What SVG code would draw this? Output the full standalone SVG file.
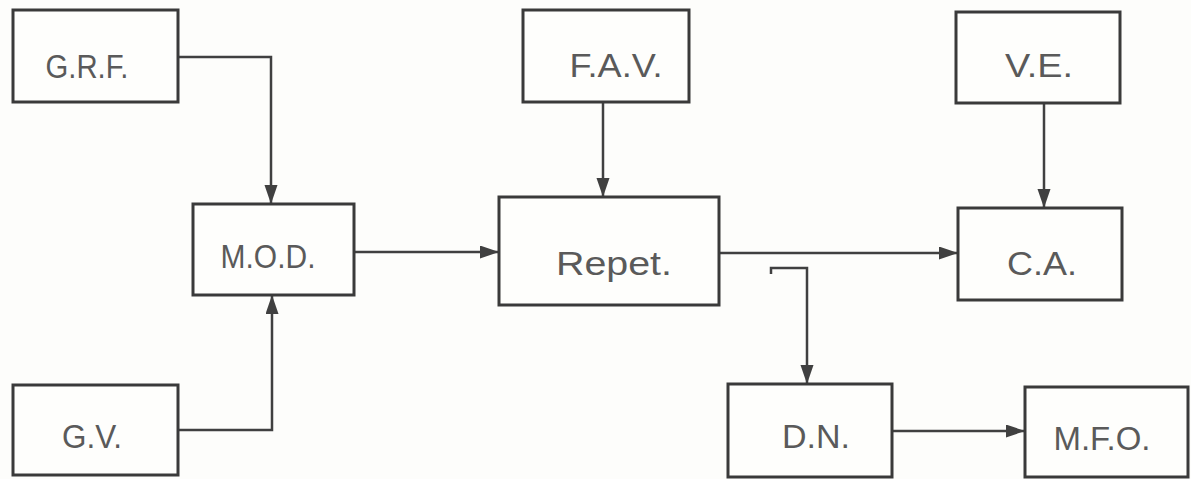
<svg xmlns="http://www.w3.org/2000/svg" width="1191" height="479" viewBox="0 0 1191 479">
<style>
.box{fill:#fefefc;stroke:#3a3a3a;stroke-width:3}
.lbl{font-family:"Liberation Sans",Arial,sans-serif;font-size:34px;fill:#5a5a5a;text-anchor:middle}
.con{fill:none;stroke:#404040;stroke-width:2.5}
</style>
<defs>
<marker id="arr" markerUnits="userSpaceOnUse" markerWidth="20" markerHeight="14" refX="19" refY="6.5" orient="auto">
<path d="M0,0 L19,6.5 L0,13 Z" fill="#404040"/>
</marker>
</defs>
<rect width="1191" height="479" fill="#fdfdfb"/>
<g id="connectors">
<path class="con" d="M178 57 H271 V204" marker-end="url(#arr)"/>
<path class="con" d="M178 430 H272 V295" marker-end="url(#arr)"/>
<path class="con" d="M354 252 H499" marker-end="url(#arr)"/>
<path class="con" d="M603 102 V197" marker-end="url(#arr)"/>
<path class="con" d="M1044 103 V208" marker-end="url(#arr)"/>
<path class="con" d="M719 253 H958" marker-end="url(#arr)"/>
<path class="con" d="M771 274 V268 H807 V384" marker-end="url(#arr)"/>
<path class="con" d="M892 431 H1025" marker-end="url(#arr)"/>
</g>
<g id="GRF"><rect class="box" x="13" y="10" width="165" height="92"/><text class="lbl" x="87" y="78" textLength="83" lengthAdjust="spacingAndGlyphs">G.R.F.</text></g>
<g id="GV"><rect class="box" x="13" y="385" width="165" height="90"/><text class="lbl" x="92" y="448" textLength="60" lengthAdjust="spacingAndGlyphs">G.V.</text></g>
<g id="MOD"><rect class="box" x="193" y="204" width="161" height="91"/><text class="lbl" x="268" y="268" textLength="95" lengthAdjust="spacingAndGlyphs">M.O.D.</text></g>
<g id="FAV"><rect class="box" x="523" y="10" width="166" height="92"/><text class="lbl" x="616" y="77" textLength="93" lengthAdjust="spacingAndGlyphs">F.A.V.</text></g>
<g id="Repet"><rect class="box" x="499" y="197" width="220" height="108"/><text class="lbl" x="614" y="275" textLength="116" lengthAdjust="spacingAndGlyphs">Repet.</text></g>
<g id="VE"><rect class="box" x="956" y="12" width="164" height="91"/><text class="lbl" x="1039" y="77" textLength="68" lengthAdjust="spacingAndGlyphs">V.E.</text></g>
<g id="CA"><rect class="box" x="958" y="208" width="164" height="92"/><text class="lbl" x="1042" y="275" textLength="70" lengthAdjust="spacingAndGlyphs">C.A.</text></g>
<g id="DN"><rect class="box" x="728" y="384" width="164" height="93"/><text class="lbl" x="816" y="448" textLength="68" lengthAdjust="spacingAndGlyphs">D.N.</text></g>
<g id="MFO"><rect class="box" x="1025" y="387" width="163" height="90"/><text class="lbl" x="1102" y="450" textLength="97" lengthAdjust="spacingAndGlyphs">M.F.O.</text></g>
</svg>
